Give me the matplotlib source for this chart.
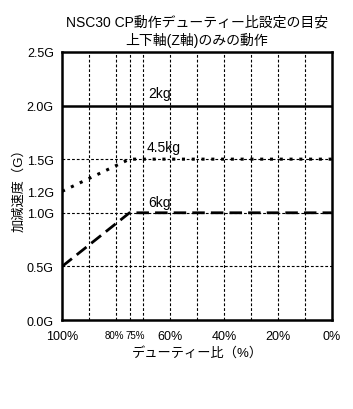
import matplotlib
matplotlib.use('Agg')
import matplotlib.pyplot as plt
from matplotlib.transforms import ScaledTranslation

plt.rcParams['font.family'] = ['Liberation Sans', 'Noto Sans CJK JP', 'DejaVu Sans']

# duty ratio (%) and acceleration (G)
duty_2kg = [100, 0]
acc_2kg = [2.0, 2.0]
duty_45kg = [100, 75, 0]
acc_45kg = [1.2, 1.5, 1.5]
duty_6kg = [100, 75, 0]
acc_6kg = [0.5, 1.0, 1.0]

x_grid = [90, 80, 75, 70, 60, 50, 40, 30, 20, 10]
y_grid = [0.5, 1.0, 1.5]
x_ticks = [100, 80, 75, 60, 40, 20, 0]
x_ticklabels = ['100%', '80%', '75%', '60%', '40%', '20%', '0%']
y_ticks = [0.0, 0.5, 1.0, 1.2, 1.5, 2.0, 2.5]
y_ticklabels = ['0.0G', '0.5G', '1.0G', '1.2G', '1.5G', '2.0G', '2.5G']

fig = plt.figure(figsize=(3.53, 4.10), dpi=100)
ax = fig.add_axes([0.176, 0.217, 0.764, 0.654])

for x in x_grid:
    ax.axvline(x, color='black', lw=0.8, ls=(0, (2.5, 1.8)), zorder=1)
for y in y_grid:
    ax.axhline(y, color='black', lw=0.8, ls=(0, (2.5, 1.8)), zorder=1)

ax.plot(duty_2kg, acc_2kg, color='black', lw=1.8, zorder=3)
ax.plot(duty_45kg, acc_45kg, color='black', lw=2.2, ls=(0, (1, 2.2)), zorder=3)
ax.plot(duty_6kg, acc_6kg, color='black', lw=2.0, ls=(0, (4.5, 2.2)), zorder=3)

ax.text(64, 2.12, '2kg', fontsize=10, ha='center', va='center')
ax.text(62.5, 1.61, '4.5kg', fontsize=10, ha='center', va='center')
ax.text(64, 1.10, '6kg', fontsize=10, ha='center', va='center')

ax.set_xlim(100, 0)
ax.set_ylim(0, 2.5)
ax.set_xticks(x_ticks)
ax.set_xticklabels(x_ticklabels, fontsize=9)
ax.set_yticks(y_ticks)
ax.set_yticklabels(y_ticklabels, fontsize=9)
ax.tick_params(axis='x', length=0, pad=7)
ax.tick_params(axis='y', length=0, pad=6)

# squeeze the close 80% / 75% labels like the original
for lbl in ax.get_xticklabels():
    t = lbl.get_text()
    if t == '80%':
        lbl.set_fontsize(7)
        lbl.set_ha('right')
        lbl.set_transform(lbl.get_transform() + ScaledTranslation(8.5 / 100, 0, fig.dpi_scale_trans))
    elif t == '75%':
        lbl.set_fontsize(7)
        lbl.set_ha('left')
        lbl.set_transform(lbl.get_transform() + ScaledTranslation(-4 / 100, 0, fig.dpi_scale_trans))

for s in ax.spines.values():
    s.set_linewidth(1.8)

ax.set_xlabel('デューティー比（%）', fontsize=9.5, labelpad=3)
ax.set_ylabel('加減速度（G）', fontsize=9.5, labelpad=1)
ax.set_title('NSC30 CP動作デューティー比設定の目安\n上下軸(Z軸)のみの動作', fontsize=10,
             pad=6, linespacing=1.25)

fig.savefig('out.png', dpi=100)
